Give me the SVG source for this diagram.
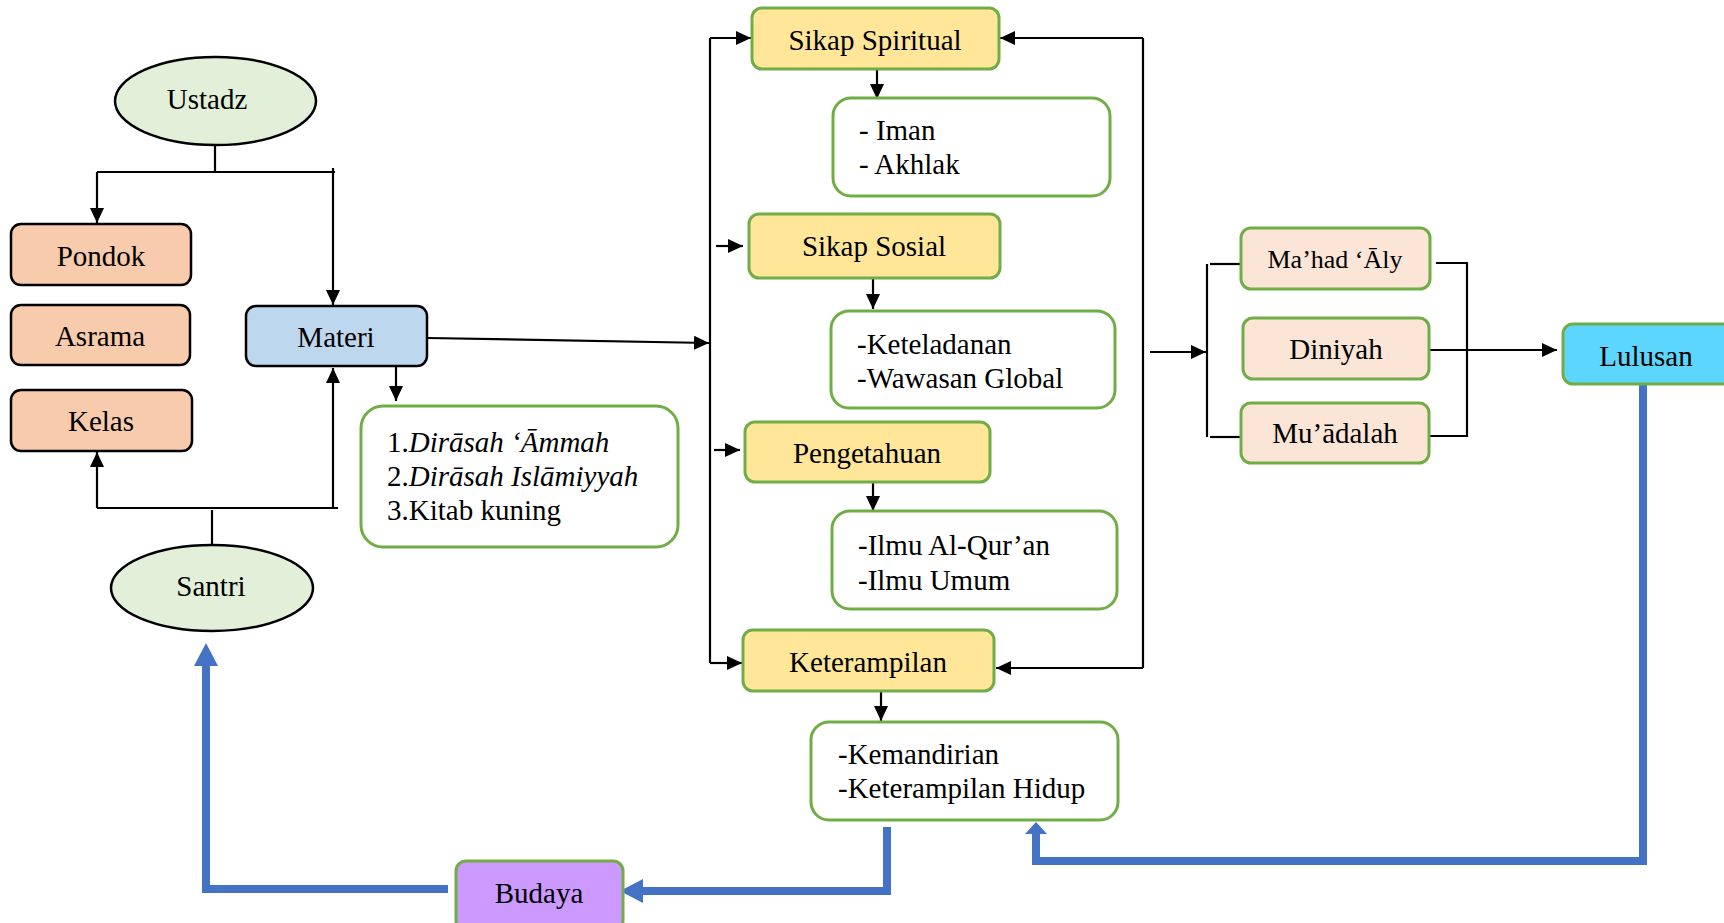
<svg xmlns="http://www.w3.org/2000/svg" width="1724" height="923" viewBox="0 0 1724 923">
<defs>
<marker id="ah" viewBox="0 0 15 14" refX="15" refY="7" markerWidth="15" markerHeight="14" markerUnits="userSpaceOnUse" orient="auto">
<path d="M0,0 L15,7 L0,14 Z" fill="#000"/>
</marker>
<style>
text{font-family:"Liberation Serif","Times New Roman",serif;font-size:29px;fill:#000}
.c{text-anchor:middle}
.sm{font-size:26px}
.ell{fill:#e2efd9;stroke:#000;stroke-width:2.5}
.org{fill:#f8cbad;stroke:#000;stroke-width:2.5}
.mat{fill:#bdd7ee;stroke:#000;stroke-width:2.5}
.yel{fill:#ffe699;stroke:#70ad47;stroke-width:3}
.wht{fill:#fff;stroke:#70ad47;stroke-width:3}
.pch{fill:#fbe5d6;stroke:#70ad47;stroke-width:3}
.lul{fill:#5dd6fd;stroke:#70ad47;stroke-width:3}
.bud{fill:#cc99ff;stroke:#70ad47;stroke-width:3}
.ln{fill:none;stroke:#000;stroke-width:2.2}
.ar{fill:none;stroke:#000;stroke-width:2.2;marker-end:url(#ah)}
.bl{fill:none;stroke:#4472c4;stroke-width:8}
.bh{fill:#4472c4}
</style>
</defs>
<rect width="1724" height="923" fill="#fff"/>
<g id="connectors">
<path class="ln" d="M215,145 V172"/>
<path class="ln" d="M97,172 H335"/>
<path class="ar" d="M97,172 V223"/>
<path class="ar" d="M333,168 V305"/>
<path class="ln" d="M212,545 V510"/>
<path class="ln" d="M97,508 H338"/>
<path class="ar" d="M97,508 V452"/>
<path class="ar" d="M333,508 V368"/>
<path class="ar" d="M396,367 V401"/>
<path class="ar" d="M428,338 L709,343"/>
<path class="ln" d="M710,38 V663"/>
<path class="ar" d="M710,38 H751"/>
<path class="ar" d="M716,246 H743"/>
<path class="ar" d="M714,450 H740"/>
<path class="ar" d="M710,663 H742"/>
<path class="ln" d="M1143,38 V668"/>
<path class="ar" d="M1143,38 H1000"/>
<path class="ar" d="M1143,668 H996"/>
<path class="ar" d="M877,69 V99"/>
<path class="ar" d="M873,279 V309"/>
<path class="ar" d="M873,483 V511"/>
<path class="ar" d="M881,692 V721"/>
<path class="ar" d="M1150,352 H1206"/>
<path class="ln" d="M1207,264 V437"/>
<path class="ln" d="M1210,264 H1241"/>
<path class="ln" d="M1210,437 H1241"/>
<path class="ln" d="M1436,263 H1467 V436 H1430"/>
<path class="ar" d="M1430,350 H1557"/>
<path class="bl" d="M1643,385 V861 H1036 V832"/>
<polygon class="bh" points="1025,834 1047,834 1036,822"/>
<path class="bl" d="M887,827 V891 H642"/>
<polygon class="bh" points="643,879 643,903 620,891"/>
<path class="bl" d="M448,889 H206 V664"/>
<polygon class="bh" points="194,666 218,666 206,643"/>
</g>
<g id="ustadz"><ellipse class="ell" cx="215.5" cy="101" rx="100.5" ry="44"/><text class="c" x="207" y="109">Ustadz</text></g>
<g id="pondok"><rect class="org" x="11" y="224" width="180" height="61" rx="10"/><text class="c" x="101" y="266">Pondok</text></g>
<g id="asrama"><rect class="org" x="11" y="305" width="179" height="60" rx="10"/><text class="c" x="100" y="346">Asrama</text></g>
<g id="kelas"><rect class="org" x="11" y="390" width="181" height="61" rx="10"/><text class="c" x="101" y="431">Kelas</text></g>
<g id="materi"><rect class="mat" x="246" y="306" width="181" height="60" rx="10"/><text class="c" x="336" y="347">Materi</text></g>
<g id="santri"><ellipse class="ell" cx="212" cy="588" rx="101" ry="43"/><text class="c" x="211" y="596">Santri</text></g>
<g id="materi-isi"><rect class="wht" x="361" y="406" width="317" height="141" rx="22"/>
<text x="387" y="452">1.<tspan font-style="italic">Dirāsah ‘Āmmah</tspan></text>
<text x="387" y="486">2.<tspan font-style="italic">Dirāsah Islāmiyyah</tspan></text>
<text x="387" y="520">3.Kitab kuning</text></g>
<g id="sikap-spiritual"><rect class="yel" x="752" y="8" width="247" height="61" rx="10"/><text class="c" x="875" y="50">Sikap Spiritual</text></g>
<g id="spiritual-isi"><rect class="wht" x="833" y="98" width="277" height="98" rx="18"/><text x="859" y="140">- Iman</text><text x="859" y="174">- Akhlak</text></g>
<g id="sikap-sosial"><rect class="yel" x="749" y="214" width="251" height="64" rx="10"/><text class="c" x="874" y="256">Sikap Sosial</text></g>
<g id="sosial-isi"><rect class="wht" x="831" y="311" width="284" height="97" rx="18"/><text x="857" y="354">-Keteladanan</text><text x="857" y="388">-Wawasan Global</text></g>
<g id="pengetahuan"><rect class="yel" x="745" y="422" width="245" height="60" rx="10"/><text class="c" x="867" y="463">Pengetahuan</text></g>
<g id="pengetahuan-isi"><rect class="wht" x="832" y="511" width="285" height="98" rx="18"/><text x="858" y="555">-Ilmu Al-Qur’an</text><text x="858" y="590">-Ilmu Umum</text></g>
<g id="keterampilan"><rect class="yel" x="743" y="630" width="251" height="61" rx="10"/><text class="c" x="868" y="672">Keterampilan</text></g>
<g id="keterampilan-isi"><rect class="wht" x="811" y="722" width="307" height="98" rx="18"/><text x="838" y="764">-Kemandirian</text><text x="838" y="798">-Keterampilan Hidup</text></g>
<g id="mahad-aly"><rect class="pch" x="1241" y="228" width="189" height="61" rx="10"/><text class="c sm" x="1335" y="268">Ma’had ‘Āly</text></g>
<g id="diniyah"><rect class="pch" x="1243" y="318" width="186" height="61" rx="10"/><text class="c" x="1336" y="359">Diniyah</text></g>
<g id="muadalah"><rect class="pch" x="1241" y="403" width="188" height="60" rx="10"/><text class="c" x="1335" y="443">Mu’ādalah</text></g>
<g id="lulusan"><rect class="lul" x="1563" y="324" width="175" height="60" rx="10"/><text class="c" x="1646" y="366">Lulusan</text></g>
<g id="budaya"><rect class="bud" x="456" y="861" width="167" height="70" rx="10"/><text class="c" x="539" y="903">Budaya</text></g>
</svg>
